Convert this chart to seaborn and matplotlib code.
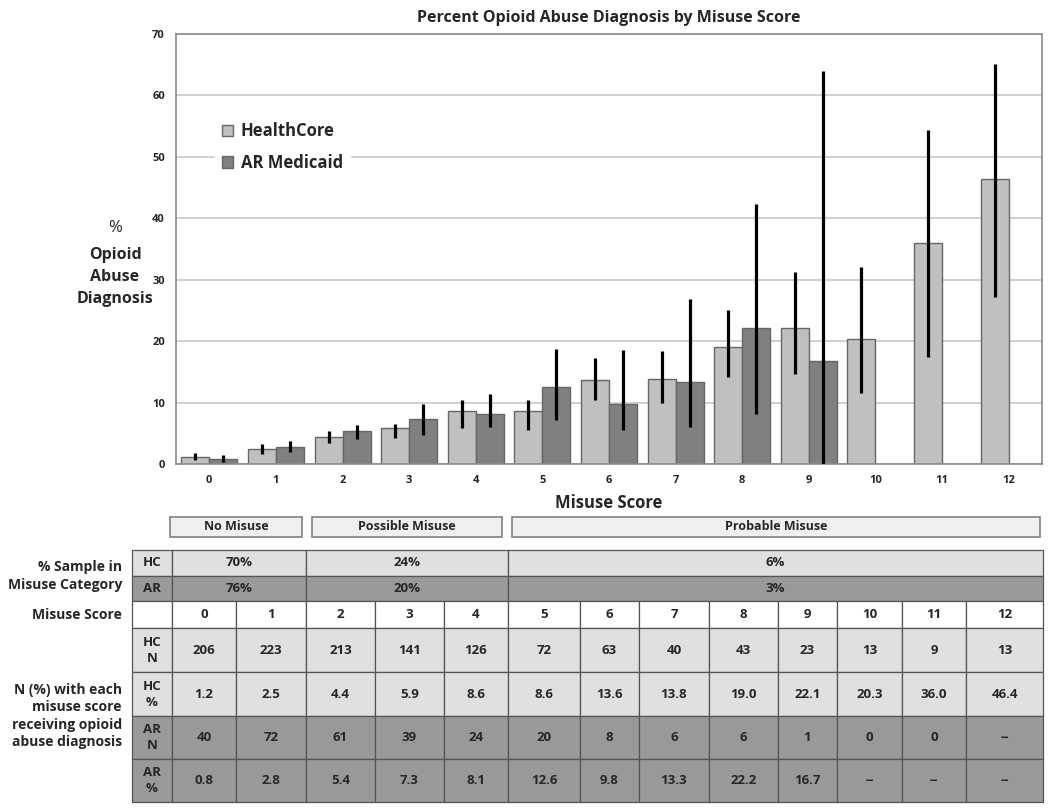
import numpy as np
import pandas as pd
import matplotlib
matplotlib.use('Agg')
import matplotlib.pyplot as plt
from matplotlib.patches import Rectangle
import seaborn as sns

#DATA
#******************************************************************************
scores = [str(i) for i in range(13)]
sources = ['HealthCore', 'AR Medicaid']

hc_pct = [1.2, 2.5, 4.4, 5.9, 8.6, 8.6, 13.6, 13.8, 19.0, 22.1, 20.3, 36.0, 46.4]
ar_pct = [0.8, 2.8, 5.4, 7.3, 8.1, 12.6, 9.8, 13.3, 22.2, 16.7, np.nan, np.nan, np.nan]

#confidence intervals
hc_lo = [0.7, 1.7, 3.5, 4.3, 5.8, 5.6, 10.4, 10.0, 14.2, 14.7, 11.6, 17.4, 27.2]
hc_hi = [1.8, 3.2, 5.3, 6.5, 10.4, 10.4, 17.3, 18.4, 25.0, 31.2, 32.0, 54.4, 65.1]
ar_lo = [0.3, 1.9, 4.1, 4.7, 6.0, 7.1, 5.6, 6.1, 8.2, 0.0, np.nan, np.nan, np.nan]
ar_hi = [1.4, 3.7, 6.3, 9.8, 11.4, 18.8, 18.6, 26.8, 42.4, 64.0, np.nan, np.nan, np.nan]

categories = ['No Misuse', 'Possible Misuse', 'Probable Misuse']
hc_sample = ['70%', '24%', '6%']
ar_sample = ['76%', '20%', '3%']

hc_n = ['206', '223', '213', '141', '126', '72', '63', '40', '43', '23', '13', '9', '13']
hc_pct_txt = ['1.2', '2.5', '4.4', '5.9', '8.6', '8.6', '13.6', '13.8', '19.0', '22.1', '20.3', '36.0', '46.4']
ar_n = ['40', '72', '61', '39', '24', '20', '8', '6', '6', '1', '0', '0', '--']
ar_pct_txt = ['0.8', '2.8', '5.4', '7.3', '8.1', '12.6', '9.8', '13.3', '22.2', '16.7', '--', '--', '--']

#STYLE
#******************************************************************************
sns.set_style('white')
plt.rcParams['font.family'] = ['Open Sans', 'DejaVu Sans']

LIGHT = '#c0c0c0'
DARK = '#808080'
EDGE = '#666666'
ROW_LIGHT = '#e0e0e0'
ROW_DARK = '#999999'
LINE = '#555555'

df = pd.DataFrame({
    'score': scores * 2,
    'source': [sources[0]] * 13 + [sources[1]] * 13,
    'pct': hc_pct + ar_pct,
})

fig = plt.figure(figsize = (10.5, 8.1), dpi = 100)
ax = fig.add_axes([176 / 1050, 1 - 464 / 810, 866 / 1050, 430 / 810])

sns.barplot(data = df, x = 'score', y = 'pct', hue = 'source', order = scores,
            hue_order = sources, palette = [LIGHT, DARK], width = 0.84,
            edgecolor = EDGE, linewidth = 1, errorbar = None, ax = ax, zorder = 2)

#error bars placed on the bars seaborn drew
ci = {sources[0]: (hc_lo, hc_hi), sources[1]: (ar_lo, ar_hi)}
for container, src in zip(ax.containers, sources):
    lo, hi = ci[src]
    for bar in container:
        if np.isnan(bar.get_height()):
            continue
        xc = bar.get_x() + bar.get_width() / 2
        i = int(round(xc))
        if np.isnan(lo[i]):
            continue
        ax.vlines(xc, lo[i], hi[i], color = 'black', lw = 2.3, zorder = 4)

ax.set_ylim(0, 70)
ax.set_xlim(-0.5, 12.5)
ax.set_yticks(range(0, 71, 10))
ax.yaxis.grid(True, color = '#c4c4c4', lw = 1.1, zorder = 0)
ax.set_axisbelow(True)
ax.tick_params(length = 0, labelsize = 8, pad = 8)
for lab in ax.get_xticklabels() + ax.get_yticklabels():
    lab.set_fontweight('bold')
for side in ['left', 'top', 'right', 'bottom']:
    ax.spines[side].set_visible(True)
    ax.spines[side].set_color('#8a8a8a')
    ax.spines[side].set_linewidth(1.2)

ax.set_xlabel('Misuse Score', fontsize = 12, fontweight = 'bold', labelpad = 6)
ax.set_ylabel('')
ax.set_title('Percent Opioid Abuse Diagnosis by Misuse Score', fontsize = 11.5,
             fontweight = 'bold', pad = 9)

#legend
handles = [ax.containers[0][0], ax.containers[1][0]]
leg = ax.legend(handles, sources, loc = 'upper left', bbox_to_anchor = (0.045, 0.81),
                borderaxespad = 0, frameon = True, facecolor = 'white', edgecolor = 'white',
                framealpha = 1, handlelength = 0.7, handleheight = 0.7, handletextpad = 0.45,
                labelspacing = 0.8, prop = {'weight': 'bold', 'size': 12})

#y label
fig.text(115 / 1050, 1 - 228 / 810, '%', ha = 'center', va = 'center', fontsize = 12)
fig.text(115 / 1050, 1 - 277 / 810, 'Opioid\nAbuse\nDiagnosis', ha = 'center', va = 'center',
         fontsize = 11.5, fontweight = 'bold', linespacing = 1.5)

#TABLE (overlay axes in pixel units)
#******************************************************************************
tab = fig.add_axes([0, 0, 1, 1], zorder = -1)
tab.set_xlim(0, 1050)
tab.set_ylim(810, 0)
tab.axis('off')

def cell(x0, x1, y0, y1, fc, text = '', size = 9.5):
    tab.add_patch(Rectangle((x0, y0), x1 - x0, y1 - y0, facecolor = fc,
                            edgecolor = LINE, lw = 0.9))
    if text:
        tab.text((x0 + x1) / 2, (y0 + y1) / 2, text, ha = 'center', va = 'center',
                 fontsize = size, fontweight = 'bold', linespacing = 1.3)

#category boxes
box_x = [(170, 302), (312, 502), (512, 1040)]
for (x0, x1), name in zip(box_x, categories):
    tab.add_patch(Rectangle((x0, 517), x1 - x0, 20, facecolor = '#f0f0f0',
                            edgecolor = '#808080', lw = 1.2))
    tab.text((x0 + x1) / 2, 527, name, ha = 'center', va = 'center', fontsize = 9,
             fontweight = 'bold')

col_x = [132, 172, 236, 306, 375, 444, 508, 580, 639, 709, 778, 837, 902, 966, 1043]
row_y = [550, 576, 601, 628, 672, 716, 759, 802]
span_cols = [(0, 2), (2, 5), (5, 13)]

#sample rows
for r, (fc, tag, vals) in enumerate([(ROW_LIGHT, 'HC', hc_sample), (ROW_DARK, 'AR', ar_sample)]):
    y0, y1 = row_y[r], row_y[r + 1]
    cell(col_x[0], col_x[1], y0, y1, fc, tag)
    for (a, b), v in zip(span_cols, vals):
        cell(col_x[a + 1], col_x[b + 1], y0, y1, fc, v)

#score row
cell(col_x[0], col_x[1], row_y[2], row_y[3], 'white')
for i, s in enumerate(scores):
    cell(col_x[i + 1], col_x[i + 2], row_y[2], row_y[3], 'white', s)

#count / percent rows
rows = [(ROW_LIGHT, 'HC\nN', hc_n), (ROW_LIGHT, 'HC\n%', hc_pct_txt),
        (ROW_DARK, 'AR\nN', ar_n), (ROW_DARK, 'AR\n%', ar_pct_txt)]
for r, (fc, tag, vals) in enumerate(rows):
    y0, y1 = row_y[r + 3], row_y[r + 4]
    cell(col_x[0], col_x[1], y0, y1, fc, tag)
    for i, v in enumerate(vals):
        cell(col_x[i + 1], col_x[i + 2], y0, y1, fc, v)

#row labels
tab.text(122, 576, '% Sample in\nMisuse Category', ha = 'right', va = 'center',
         fontsize = 10, fontweight = 'bold', linespacing = 1.3)
tab.text(122, 615, 'Misuse Score', ha = 'right', va = 'center', fontsize = 10,
         fontweight = 'bold')
tab.text(122, 716, 'N (%) with each\nmisuse score\nreceiving opioid\nabuse diagnosis',
         ha = 'right', va = 'center', fontsize = 10, fontweight = 'bold', linespacing = 1.3)

fig.savefig('out.png', dpi = 100)
